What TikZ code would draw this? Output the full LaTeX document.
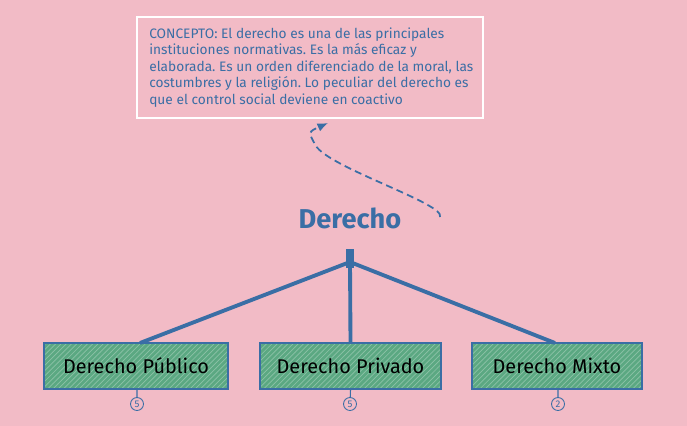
\documentclass[tikz,border=0pt]{standalone}
\usepackage{fontspec}
\setmainfont{Fira Sans}
\usetikzlibrary{arrows.meta,positioning,patterns}
\definecolor{bgpink}{RGB}{242,187,198}
\definecolor{inkblue}{RGB}{58,110,165}
\definecolor{boxgreen}{RGB}{91,168,130}
\begin{document}
\begin{tikzpicture}[x=0.02cm,y=-0.02cm,
    rama/.style={draw=inkblue,line width=2.2pt},
    hoja/.style={draw=inkblue,line width=1.2pt,preaction={fill=boxgreen},
      pattern=north east lines,pattern color=white!30!boxgreen,
      minimum height=46*0.02cm,inner sep=0pt,font=\fontsize{11.3}{13}\selectfont},
    cuenta/.style={circle,draw=inkblue,line width=0.5pt,inner sep=0.6pt,
      text=inkblue,font=\fontsize{5.5}{6}\selectfont,minimum size=13*0.02cm}]
 	\fill[bgpink] (0,0) rectangle (687,426);
 	\useasboundingbox (0,0) rectangle (687,426);
 	% concepto
 	\node (marco) [draw=white,line width=1.2pt,minimum width=346*0.02cm,minimum height=101*0.02cm] at (310,67.5) {};
 	\node (concepto) [right=13*0.02cm of marco.west,anchor=west,align=left,inner sep=0pt,text=inkblue,
 	  font=\fontsize{7.8}{9.4}\selectfont\frenchspacing]
 	  {CONCEPTO: El derecho es una de las principales\\ instituciones normativas. Es la más eficaz y\\ elaborada. Es un orden diferenciado de la moral, las\\ costumbres y la religión. Lo peculiar del derecho es\\ que el control social deviene en coactivo};
 	\node (titulo) [text=inkblue,font=\fontsize{15.5}{18}\selectfont\bfseries] at (350,218) {Derecho};
 	\coordinate (cola) at (440,217);
 	\coordinate (punta) at (328,123);
 	\draw[inkblue,line width=1pt,dash pattern=on 4pt off 2.5pt,-{Latex[length=6pt,width=5pt]}] (cola) .. controls (446,204) and (330,168) .. (316,146)
 	  .. controls (308,132) .. (punta);
 	% ramas
 	\coordinate (nudo) at (350,262);
 	\node (publico) [hoja,minimum width=184*0.02cm] at (136,366) {Derecho Público};
 	\node (privado) [hoja,minimum width=181*0.02cm] at (350.5,366) {Derecho Privado};
 	\node (mixto) [hoja,minimum width=170*0.02cm] at (557,366) {Derecho Mixto};
 	\draw[rama,line width=4pt] (350,249) -- (350,268);
 	\draw[rama] (nudo) -- (140,343);
 	\draw[rama] (nudo) -- (privado.north);
 	\draw[rama] (nudo) -- (555,343);
 	\node (n1) [cuenta] at (137,404) {5};
 	\node (n2) [cuenta] at (350,404) {5};
 	\node (n3) [cuenta] at (558,404) {2};
 	\draw[inkblue,line width=0.6pt] (publico.south -| n1) -- (n1) (privado.south) -- (n2) (mixto.south -| n3) -- (n3);
 	\end{tikzpicture}
\end{document}
